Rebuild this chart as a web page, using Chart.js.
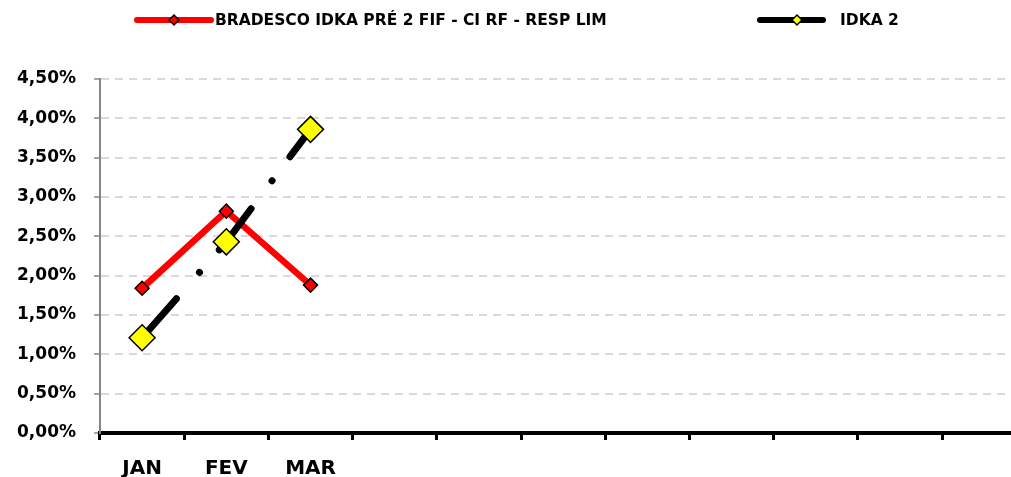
<!DOCTYPE html>
<html>
<head>
<meta charset="utf-8">
<script src="https://cdn.jsdelivr.net/npm/chart.js@4"></script>
<style>
  html, body { margin: 0; padding: 0; overflow: hidden; background: #fff; }
  canvas { display: block; }
</style>
</head>
<body>
<canvas id="grafico" width="1125" height="477"></canvas>
<script>
// dados do grafico
const meses = ['JAN', 'FEV', 'MAR', 'ABR', 'MAI', 'JUN', 'JUL', 'AGO', 'SET', 'OUT', 'NOV', 'DEZ'];
const bradesco = [1.84, 2.82, 1.88];
const idka2 = [1.21, 2.43, 3.86];
const nomes = ['BRADESCO IDKA PRÉ 2 FIF - CI RF - RESP LIM', 'IDKA 2'];
const eixoMax = 4.5;
const eixoPasso = 0.5;

const fonte = 'DejaVu Sans';
Chart.defaults.font.family = fonte;
Chart.defaults.font.weight = 'bold';
Chart.defaults.color = '#000';

const formatoPct = v => v.toFixed(2).replace('.', ',') + '%';

// legenda desenhada a mao (posicoes do original)
const legenda = {
    id: 'legenda',
    afterDraw(chart) {
        const c = chart.ctx;
        const pos = [
            { x1: 137, x2: 211, tx: 215, mk: 174, r: 5 },
            { x1: 760, x2: 823, tx: 840, mk: 797, r: 5 }
        ];
        const y = 20;
        c.save();
        chart.data.datasets.forEach((ds, i) => {
            const p = pos[i];
            c.beginPath();
            c.lineCap = 'round';
            c.lineWidth = 6;
            c.strokeStyle = ds.borderColor;
            c.setLineDash([]);
            c.moveTo(p.x1, y);
            c.lineTo(p.x2, y);
            c.stroke();
            c.beginPath();
            c.moveTo(p.mk - p.r, y);
            c.lineTo(p.mk, y - p.r);
            c.lineTo(p.mk + p.r, y);
            c.lineTo(p.mk, y + p.r);
            c.closePath();
            c.fillStyle = ds.pointBackgroundColor;
            c.fill();
            c.lineWidth = 1.5;
            c.strokeStyle = '#000';
            c.stroke();
            c.fillStyle = '#000';
            c.font = 'bold 15.5px ' + fonte;
            c.textBaseline = 'middle';
            c.textAlign = 'left';
            c.fillText(ds.label, p.tx, y + 1);
        });
        c.restore();
    }
};

new Chart(document.getElementById('grafico'), {
    type: 'line',
    data: {
        labels: meses,
        datasets: [{
            label: nomes[0],
            data: bradesco,
            borderColor: '#ff0000',
            borderWidth: 6.5,
            pointStyle: 'rectRot',
            pointRadius: 7,
            pointBackgroundColor: '#ff0000',
            pointBorderColor: '#000',
            pointBorderWidth: 1.5,
            tension: 0,
            order: 2
        }, {
            label: nomes[1],
            data: idka2,
            borderColor: '#000',
            borderWidth: 7,
            borderCapStyle: 'round',
            borderDash: [52, 35, 0.01, 30],
            pointStyle: 'rectRot',
            pointRadius: 13,
            pointBackgroundColor: '#ffff00',
            pointBorderColor: '#000',
            pointBorderWidth: 1.5,
            tension: 0,
            order: 1
        }]
    },
    options: {
        responsive: false,
        animation: false,
        layout: { padding: { top: 79, left: 0, right: 0, bottom: 0 } },
        plugins: {
            legend: { display: false },
            tooltip: { enabled: false }
        },
        scales: {
            x: {
                offset: true,
                afterFit: s => { s.height = 44; },
                grid: {
                    offset: true,
                    drawOnChartArea: false,
                    tickLength: 7,
                    tickWidth: 3,
                    tickColor: '#000'
                },
                border: { color: '#000', width: 4 },
                ticks: {
                    padding: 17,
                    font: { size: 20, weight: 'bold' },
                    maxRotation: 0,
                    autoSkip: false,
                    callback: (v, i) => i < bradesco.length ? meses[i] : ''
                }
            },
            y: {
                min: 0,
                max: eixoMax,
                afterFit: s => { s.width = 100; },
                grid: {
                    color: '#d9d9d9',
                    lineWidth: 2,
                    tickLength: 6,
                    tickWidth: 1.5,
                    tickColor: '#868686'
                },
                border: { color: '#868686', width: 2, dash: [8, 6] },
                ticks: {
                    stepSize: eixoPasso,
                    padding: 18,
                    font: { size: 17, weight: 'bold' },
                    callback: v => formatoPct(v)
                }
            }
        }
    },
    plugins: [legenda]
});
</script>
</body>
</html>
